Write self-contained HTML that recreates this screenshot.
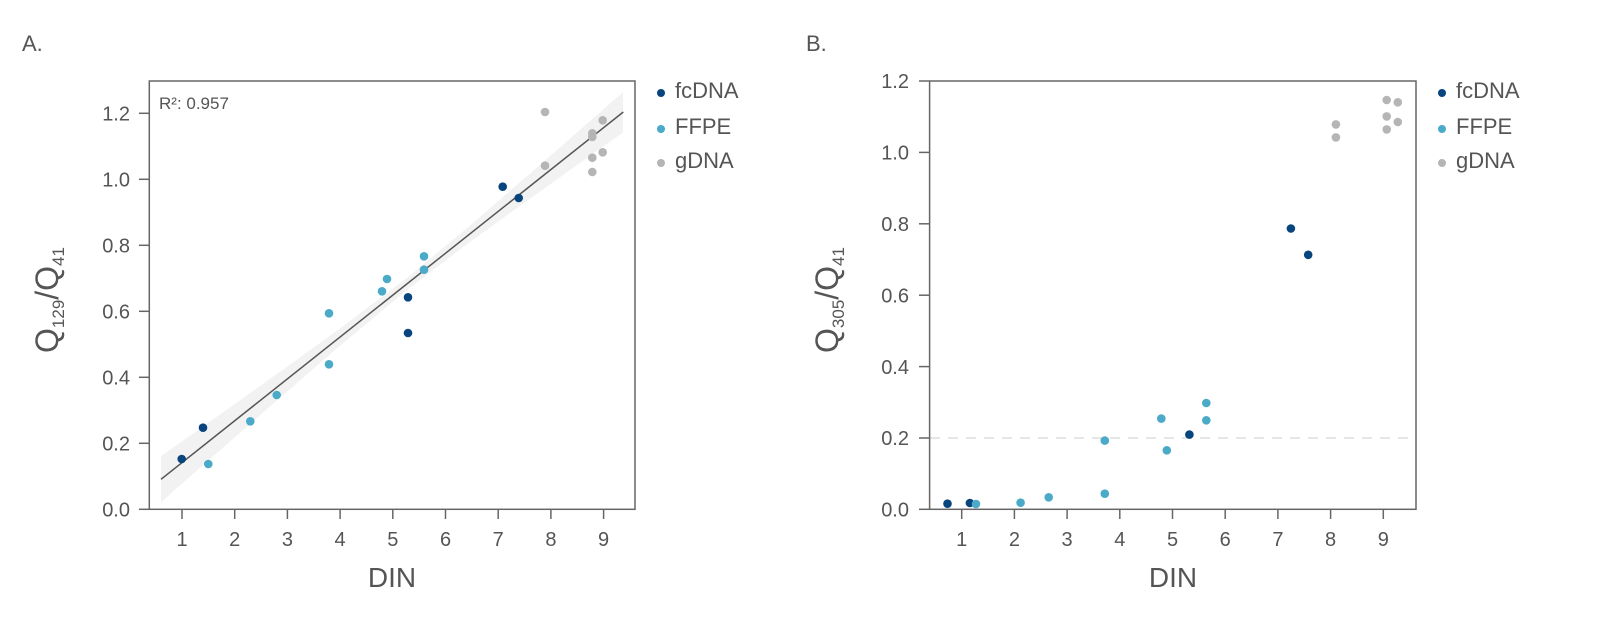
<!DOCTYPE html>
<html><head><meta charset="utf-8"><style>
html,body{margin:0;padding:0;background:#fff}
svg{display:block}
text{font-family:"Liberation Sans",sans-serif;fill:#555}
</style></head><body>
<svg width="1600" height="629" viewBox="0 0 1600 629" xmlns="http://www.w3.org/2000/svg">
<!-- Panel A -->
<text x="22" y="51" font-size="22">A.</text>
<polygon fill="#f2f2f2" points="161,456.3 220,414.5 280,371.8 340,328.5 408,277.1 470,225.6 530,173.6 590,121.1 623,92.1 623,132.5 590,155.9 530,198.6 470,242 408,289.1 340,345.7 280,397.8 220,450.3 161,502.3"/>
<rect x="149.3" y="81" width="485.7" height="428.3" fill="none" stroke="#666" stroke-width="1.5"/>
<g stroke="#666" stroke-width="1.5">
<line x1="139" y1="509.3" x2="149" y2="509.3"/><line x1="139" y1="443.3" x2="149" y2="443.3"/><line x1="139" y1="377.3" x2="149" y2="377.3"/><line x1="139" y1="311.3" x2="149" y2="311.3"/><line x1="139" y1="245.3" x2="149" y2="245.3"/><line x1="139" y1="179.3" x2="149" y2="179.3"/><line x1="139" y1="113.3" x2="149" y2="113.3"/>
<line x1="182" y1="509" x2="182" y2="519"/><line x1="234.7" y1="509" x2="234.7" y2="519"/><line x1="287.4" y1="509" x2="287.4" y2="519"/><line x1="340.1" y1="509" x2="340.1" y2="519"/><line x1="392.8" y1="509" x2="392.8" y2="519"/><line x1="445.5" y1="509" x2="445.5" y2="519"/><line x1="498.2" y1="509" x2="498.2" y2="519"/><line x1="550.9" y1="509" x2="550.9" y2="519"/><line x1="603.6" y1="509" x2="603.6" y2="519"/>
</g>
<g font-size="20" text-anchor="end">
<text x="130" y="516.5">0.0</text><text x="130" y="450.5">0.2</text><text x="130" y="384.5">0.4</text><text x="130" y="318.5">0.6</text><text x="130" y="252.5">0.8</text><text x="130" y="186.5">1.0</text><text x="130" y="120.5">1.2</text>
</g>
<g font-size="20" text-anchor="middle">
<text x="182" y="546">1</text><text x="234.7" y="546">2</text><text x="287.4" y="546">3</text><text x="340.1" y="546">4</text><text x="392.8" y="546">5</text><text x="445.5" y="546">6</text><text x="498.2" y="546">7</text><text x="550.9" y="546">8</text><text x="603.6" y="546">9</text>
</g>
<text x="392" y="587" font-size="28" text-anchor="middle">DIN</text>
<text transform="translate(58,300) rotate(-90)" font-size="32" text-anchor="middle">Q<tspan font-size="17" dy="6">129</tspan><tspan dy="-6">/Q</tspan><tspan font-size="17" dy="6">41</tspan></text>
<text x="159" y="109" font-size="17">R²: 0.957</text>
<line x1="161" y1="479.3" x2="623.3" y2="112" stroke="#555" stroke-width="1.5"/>
<g fill="#b5b5b5">
<circle cx="545" cy="112" r="4.3"/><circle cx="545" cy="165.7" r="4.3"/><circle cx="602.7" cy="120.3" r="4.3"/><circle cx="592.3" cy="133.3" r="4.3"/><circle cx="592.3" cy="137" r="4.3"/><circle cx="602.7" cy="152.3" r="4.3"/><circle cx="592.3" cy="157.7" r="4.3"/><circle cx="592.3" cy="172" r="4.3"/>
</g>
<g fill="#4aaac8">
<circle cx="208.3" cy="464" r="4.3"/><circle cx="250.3" cy="421.3" r="4.3"/><circle cx="276.7" cy="395" r="4.3"/><circle cx="329" cy="313.3" r="4.3"/><circle cx="329" cy="364.3" r="4.3"/><circle cx="382" cy="291.3" r="4.3"/><circle cx="387" cy="279" r="4.3"/><circle cx="424" cy="256.3" r="4.3"/><circle cx="424" cy="269.7" r="4.3"/>
</g>
<g fill="#08457e">
<circle cx="181.7" cy="459" r="4.3"/><circle cx="203" cy="427.7" r="4.3"/><circle cx="502.7" cy="186.7" r="4.3"/><circle cx="518.7" cy="198" r="4.3"/><circle cx="408" cy="297.3" r="4.3"/><circle cx="408" cy="333" r="4.3"/>
</g>
<circle cx="661" cy="93" r="4" fill="#08457e"/><circle cx="661" cy="129" r="4" fill="#4aaac8"/><circle cx="661" cy="163" r="4" fill="#b5b5b5"/>
<g font-size="22"><text x="675" y="98">fcDNA</text><text x="675" y="134">FFPE</text><text x="675" y="168">gDNA</text></g>

<!-- Panel B -->
<text x="806" y="51" font-size="22">B.</text>
<line x1="930" y1="438" x2="1416" y2="438" stroke="#ddd" stroke-width="1.5" stroke-dasharray="10,8"/>
<rect x="929.6" y="81" width="486.4" height="428.3" fill="none" stroke="#666" stroke-width="1.5"/>
<g stroke="#666" stroke-width="1.5">
<line x1="919" y1="509.3" x2="929" y2="509.3"/><line x1="919" y1="438" x2="929" y2="438"/><line x1="919" y1="366.6" x2="929" y2="366.6"/><line x1="919" y1="295.2" x2="929" y2="295.2"/><line x1="919" y1="223.8" x2="929" y2="223.8"/><line x1="919" y1="152.4" x2="929" y2="152.4"/><line x1="919" y1="81" x2="929" y2="81"/>
<line x1="961.7" y1="509" x2="961.7" y2="519"/><line x1="1014.4" y1="509" x2="1014.4" y2="519"/><line x1="1067.1" y1="509" x2="1067.1" y2="519"/><line x1="1119.8" y1="509" x2="1119.8" y2="519"/><line x1="1172.5" y1="509" x2="1172.5" y2="519"/><line x1="1225.2" y1="509" x2="1225.2" y2="519"/><line x1="1277.9" y1="509" x2="1277.9" y2="519"/><line x1="1330.6" y1="509" x2="1330.6" y2="519"/><line x1="1383.3" y1="509" x2="1383.3" y2="519"/>
</g>
<g font-size="20" text-anchor="end">
<text x="909" y="516.5">0.0</text><text x="909" y="445">0.2</text><text x="909" y="373.8">0.4</text><text x="909" y="302.4">0.6</text><text x="909" y="231">0.8</text><text x="909" y="159.6">1.0</text><text x="909" y="88.2">1.2</text>
</g>
<g font-size="20" text-anchor="middle">
<text x="961.7" y="546">1</text><text x="1014.4" y="546">2</text><text x="1067.1" y="546">3</text><text x="1119.8" y="546">4</text><text x="1172.5" y="546">5</text><text x="1225.2" y="546">6</text><text x="1277.9" y="546">7</text><text x="1330.6" y="546">8</text><text x="1383.3" y="546">9</text>
</g>
<text x="1173" y="587" font-size="28" text-anchor="middle">DIN</text>
<text transform="translate(838,300) rotate(-90)" font-size="32" text-anchor="middle">Q<tspan font-size="17" dy="6">305</tspan><tspan dy="-6">/Q</tspan><tspan font-size="17" dy="6">41</tspan></text>
<g fill="#b5b5b5">
<circle cx="1335.9" cy="124.4" r="4.3"/><circle cx="1335.9" cy="137.4" r="4.3"/><circle cx="1386.7" cy="100" r="4.3"/><circle cx="1397.8" cy="102.3" r="4.3"/><circle cx="1386.7" cy="116.4" r="4.3"/><circle cx="1397.8" cy="122" r="4.3"/><circle cx="1386.7" cy="129.4" r="4.3"/>
</g>
<g fill="#08457e">
<circle cx="947.5" cy="503.7" r="4.3"/><circle cx="969.9" cy="503" r="4.3"/><circle cx="1189.4" cy="434.6" r="4.3"/><circle cx="1290.9" cy="228.5" r="4.3"/><circle cx="1308.2" cy="254.8" r="4.3"/>
</g>
<g fill="#4aaac8">
<circle cx="976" cy="504" r="4.3"/><circle cx="1020.6" cy="502.7" r="4.3"/><circle cx="1048.7" cy="497.3" r="4.3"/><circle cx="1104.8" cy="493.7" r="4.3"/><circle cx="1104.8" cy="440.6" r="4.3"/><circle cx="1161.3" cy="418.6" r="4.3"/><circle cx="1166.8" cy="450.3" r="4.3"/><circle cx="1206.3" cy="403" r="4.3"/><circle cx="1206.3" cy="420.3" r="4.3"/>
</g>
<circle cx="1442" cy="93" r="4" fill="#08457e"/><circle cx="1442" cy="129" r="4" fill="#4aaac8"/><circle cx="1442" cy="163" r="4" fill="#b5b5b5"/>
<g font-size="22"><text x="1456" y="98">fcDNA</text><text x="1456" y="134">FFPE</text><text x="1456" y="168">gDNA</text></g>
</svg>
</body></html>
